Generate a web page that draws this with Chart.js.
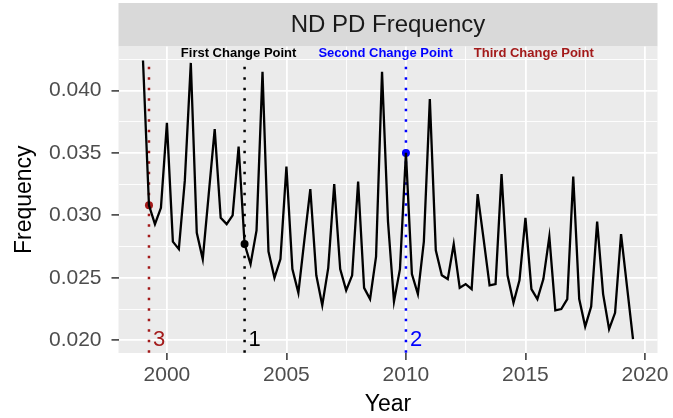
<!DOCTYPE html>
<html>
<head>
<meta charset="utf-8">
<script src="https://cdn.jsdelivr.net/npm/chart.js@4"></script>
<style>
  body { margin: 0; background: #fff; }
</style>
</head>
<body>
<canvas id="chart" width="673" height="418"></canvas>
<script>
// quarterly ND PD frequency
const years = [
  1999, 1999.25, 1999.5, 1999.75, 2000, 2000.25, 2000.5, 2000.75,
  2001, 2001.25, 2001.5, 2001.75, 2002, 2002.25, 2002.5, 2002.75,
  2003, 2003.25, 2003.5, 2003.75, 2004, 2004.25, 2004.5, 2004.75,
  2005, 2005.25, 2005.5, 2005.75, 2006, 2006.25, 2006.5, 2006.75,
  2007, 2007.25, 2007.5, 2007.75, 2008, 2008.25, 2008.5, 2008.75,
  2009, 2009.25, 2009.5, 2009.75, 2010, 2010.25, 2010.5, 2010.75,
  2011, 2011.25, 2011.5, 2011.75, 2012, 2012.25, 2012.5, 2012.75,
  2013, 2013.25, 2013.5, 2013.75, 2014, 2014.25, 2014.5, 2014.75,
  2015, 2015.25, 2015.5, 2015.75, 2016, 2016.25, 2016.5, 2016.75,
  2017, 2017.25, 2017.5, 2017.75, 2018, 2018.25, 2018.5, 2018.75,
  2019, 2019.25, 2019.5
];
const freq = [
  0.0424, 0.0308, 0.0293, 0.0306, 0.0374, 0.0279, 0.0273, 0.0328,
  0.0422, 0.0286, 0.0265, 0.0317, 0.0369, 0.0298, 0.0293, 0.0300,
  0.0355, 0.0277, 0.0261, 0.0288, 0.0415, 0.0271, 0.0250, 0.0265,
  0.0339, 0.0257, 0.0238, 0.0280, 0.0321, 0.0252, 0.0228, 0.0258,
  0.0325, 0.0257, 0.0240, 0.0252, 0.0327, 0.0242, 0.0233, 0.0267,
  0.0415, 0.0295, 0.0231, 0.0257, 0.0350, 0.0253, 0.0237, 0.0279,
  0.0393, 0.0272, 0.0252, 0.0249, 0.0277, 0.0242, 0.0245, 0.0241,
  0.0317, 0.0281, 0.0244, 0.0245, 0.0333, 0.0252, 0.0230, 0.0248,
  0.0298, 0.0241, 0.0233, 0.0249, 0.0283, 0.0224, 0.0225, 0.0233,
  0.0331, 0.0233, 0.0211, 0.0227, 0.0295, 0.0237, 0.0209, 0.0222,
  0.0285, 0.0243, 0.0201
];

// change points
const cpYears = [2003.25, 2010, 1999.25];
const cpValues = [0.0277, 0.0350, 0.0308];
const cpNumbers = ['1', '2', '3'];
const cpColors = ['#000000', '#0000FF', '#A31A1A'];
const cpTitles = ['First Change Point', 'Second Change Point', 'Third Change Point'];
const cpTitleX = [2003, 2009.15, 2015.35];

const xMajor = [2000, 2005, 2010, 2015, 2020];
const xMinor = [2002.5, 2007.5, 2012.5, 2017.5];
const yMajor = [0.020, 0.025, 0.030, 0.035, 0.040];
const yMinor = [0.0225, 0.0275, 0.0325, 0.0375, 0.0425];

const FONT = "'Liberation Sans', Arial, sans-serif";

const ggBack = {
  id: 'ggBack',
  beforeDraw(chart) {
    const {ctx, chartArea: a} = chart;
    ctx.save();
    ctx.fillStyle = '#D9D9D9';
    ctx.fillRect(a.left, 3, a.right - a.left, a.top - 3);
    ctx.fillStyle = '#1A1A1A';
    ctx.font = '24px ' + FONT;
    ctx.textAlign = 'center';
    ctx.textBaseline = 'middle';
    ctx.fillText('ND PD Frequency', (a.left + a.right) / 2, (a.top + 3) / 2 + 1);
    ctx.fillStyle = '#EBEBEB';
    ctx.fillRect(a.left, a.top, a.right - a.left, a.bottom - a.top);
    ctx.restore();
  },
  beforeDatasetsDraw(chart) {
    const {ctx, chartArea: a, scales: {x, y}} = chart;
    ctx.save();
    ctx.lineWidth = 2.5;
    ctx.setLineDash([2.5, 8]);
    cpYears.forEach((yr, i) => {
      const px = x.getPixelForValue(yr);
      ctx.strokeStyle = cpColors[i];
      ctx.beginPath();
      ctx.moveTo(px, y.getPixelForValue(0.0419));
      ctx.lineTo(px, a.bottom);
      ctx.stroke();
    });
    ctx.restore();
  },
  afterDatasetsDraw(chart) {
    const {ctx, scales: {x, y}} = chart;
    ctx.save();
    ctx.textBaseline = 'middle';
    cpYears.forEach((yr, i) => {
      ctx.fillStyle = cpColors[i];
      ctx.font = '22px ' + FONT;
      ctx.textAlign = 'left';
      ctx.fillText(cpNumbers[i], x.getPixelForValue(yr) + 4, y.getPixelForValue(0.020));
      ctx.font = 'bold 13px ' + FONT;
      ctx.textAlign = 'center';
      ctx.fillText(cpTitles[i], x.getPixelForValue(cpTitleX[i]), y.getPixelForValue(0.0430));
    });
    ctx.restore();
  }
};

const isMajor = (list, v) => list.some(m => Math.abs(m - v) < 1e-9);

new Chart(document.getElementById('chart'), {
  type: 'line',
  data: {
    datasets: [{
      data: years.map((yr, i) => ({x: yr, y: freq[i]})),
      borderColor: '#000000',
      borderWidth: 2.3,
      pointRadius: 0,
      tension: 0
    }, {
      type: 'scatter',
      data: cpYears.map((yr, i) => ({x: yr, y: cpValues[i]})),
      pointBackgroundColor: cpColors,
      pointBorderWidth: 0,
      pointRadius: 4
    }]
  },
  options: {
    responsive: false,
    animation: false,
    devicePixelRatio: 1,
    layout: { padding: { top: 46.5, right: 15.5, left: 0, bottom: 0 } },
    plugins: { legend: { display: false }, tooltip: { enabled: false } },
    scales: {
      x: {
        type: 'linear',
        min: 1997.975,
        max: 2020.525,
        afterBuildTicks: s => { s.ticks = xMajor.concat(xMinor).sort((a, b) => a - b).map(v => ({value: v})); },
        afterFit: s => { s.height = 65; },
        border: { display: false },
        grid: {
          color: '#FFFFFF',
          lineWidth: c => isMajor(xMajor, c.tick.value) ? 1.8 : 0.9,
          tickColor: c => isMajor(xMajor, c.tick.value) ? '#333333' : 'rgba(0,0,0,0)',
          tickWidth: 1.5,
          tickLength: 7
        },
        ticks: {
          autoSkip: false,
          maxRotation: 0,
          padding: 3,
          color: '#4D4D4D',
          font: { family: FONT, size: 21 },
          callback: v => isMajor(xMajor, v) ? String(v) : ''
        },
        title: { display: true, text: 'Year', color: '#000000', font: { family: FONT, size: 23 }, padding: 0 }
      },
      y: {
        min: 0.018985,
        max: 0.043515,
        afterBuildTicks: s => { s.ticks = yMajor.concat(yMinor).sort((a, b) => a - b).map(v => ({value: v})); },
        afterFit: s => { s.width = 118.5; },
        border: { display: false },
        grid: {
          color: '#FFFFFF',
          lineWidth: c => isMajor(yMajor, c.tick.value) ? 1.8 : 0.9,
          tickColor: c => isMajor(yMajor, c.tick.value) ? '#333333' : 'rgba(0,0,0,0)',
          tickWidth: 1.5,
          tickLength: 7
        },
        ticks: {
          autoSkip: false,
          padding: 10,
          color: '#4D4D4D',
          font: { family: FONT, size: 21 },
          callback: v => isMajor(yMajor, v) ? v.toFixed(3) : ''
        },
        title: { display: true, text: 'Frequency', color: '#000000', font: { family: FONT, size: 23 }, padding: { top: 11, bottom: 0 } }
      }
    }
  },
  plugins: [ggBack]
});
</script>
</body>
</html>
